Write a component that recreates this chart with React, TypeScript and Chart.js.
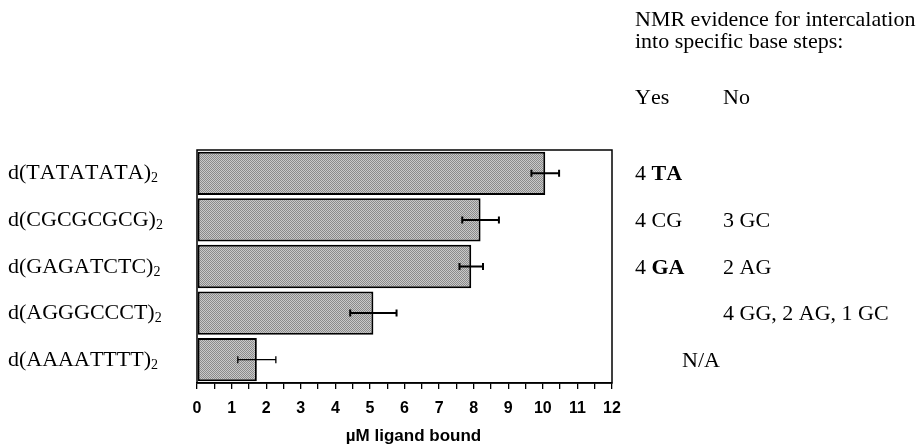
import React, { useEffect, useRef } from "react";
import { Chart, registerables } from "chart.js";

Chart.register(...registerables);

const sequences = ["TATATATA", "CGCGCGCG", "GAGATCTC", "AGGGCCCT", "AAAATTTT"];
const boundValues = [10.07, 8.2, 7.93, 5.1, 1.73];
const errorValues = [0.4, 0.53, 0.34, 0.67, 0.55];
const xTickLabels = ["0", "1", "2", "3", "4", "5", "6", "7", "8", "9", "10", "11", "12"];
const yesPlain = ["4 ", "4 CG", "4 ", "", ""];
const yesBold = ["TA", "", "GA", "", ""];
const noSteps = ["", "3 GC", "2 AG", "4 GG, 2 AG, 1 GC", ""];
const naSteps = ["", "", "", "", "N/A"];
const headerLines = ["NMR evidence for intercalation", "into specific base steps:"];
const columnHeads = ["Yes", "No"];
const axisTitle = "\u00B5M ligand bound";

const SERIF = '"Liberation Serif", "Times New Roman", serif';
const SANS = '"Liberation Sans", Arial, Helvetica, sans-serif';

function makePattern(): CanvasPattern | string {
  const c = document.createElement("canvas");
  c.width = 2;
  c.height = 2;
  const g = c.getContext("2d");
  if (!g) return "#aaaaaa";
  g.fillStyle = "#c9c9c9";
  g.fillRect(0, 0, 2, 2);
  g.fillStyle = "#8a8a8a";
  g.fillRect(0, 0, 1, 1);
  g.fillRect(1, 1, 1, 1);
  const p = g.createPattern(c, "repeat");
  return p || "#aaaaaa";
}

const decorPlugin = {
  id: "decor",
  afterDatasetsDraw(chart: any) {
    const ctx = chart.ctx;
    const xs = chart.scales.x;
    const meta = chart.getDatasetMeta(0);
    const area = chart.chartArea;
    ctx.save();
    ctx.strokeStyle = "#000";
    ctx.lineWidth = 1.5;
    ctx.strokeRect(area.left, area.top, area.right - area.left, area.bottom - area.top);
    meta.data.forEach((bar: any, i: number) => {
      const v = boundValues[i];
      const e = errorValues[i];
      const x1 = xs.getPixelForValue(v - e);
      const x2 = xs.getPixelForValue(v + e);
      const y = bar.y;
      ctx.lineWidth = i === 4 ? 1.3 : 2;
      ctx.beginPath();
      ctx.moveTo(x1, y);
      ctx.lineTo(x2, y);
      ctx.moveTo(x1, y - 3.5);
      ctx.lineTo(x1, y + 3.5);
      ctx.moveTo(x2, y - 3.5);
      ctx.lineTo(x2, y + 3.5);
      ctx.stroke();
    });
    ctx.restore();
  },
  afterDraw(chart: any) {
    const ctx = chart.ctx;
    const meta = chart.getDatasetMeta(0);
    const area = chart.chartArea;
    ctx.save();
    ctx.fillStyle = "#000";
    ctx.textBaseline = "alphabetic";
    ctx.textAlign = "left";
    try {
      (ctx as any).fontKerning = "none";
    } catch (e) {}
    meta.data.forEach((bar: any, i: number) => {
      const base = bar.y + 6;
      ctx.font = `22px ${SERIF}`;
      const main = `d(${sequences[i]})`;
      ctx.fillText(main, 8, base);
      const w = ctx.measureText(main).width;
      ctx.font = `14px ${SERIF}`;
      ctx.fillText("2", 8 + w, base + 3);
    });
    ctx.font = `22px ${SERIF}`;
    ctx.fillText(headerLines[0], 635, 26);
    ctx.fillText(headerLines[1], 635, 48);
    ctx.fillText(columnHeads[0], 635, 104);
    ctx.fillText(columnHeads[1], 723, 104);
    meta.data.forEach((bar: any, i: number) => {
      const base = bar.y + 7;
      ctx.font = `22px ${SERIF}`;
      let x = 635;
      if (yesPlain[i]) {
        ctx.fillText(yesPlain[i], x, base);
        x += ctx.measureText(yesPlain[i]).width;
      }
      if (yesBold[i]) {
        ctx.font = `bold 22px ${SERIF}`;
        ctx.fillText(yesBold[i], x, base);
        ctx.font = `22px ${SERIF}`;
      }
      if (noSteps[i]) ctx.fillText(noSteps[i], 723, base);
      if (naSteps[i]) ctx.fillText(naSteps[i], 682, base);
    });
    ctx.font = `bold 17px ${SANS}`;
    ctx.textAlign = "center";
    ctx.fillText(axisTitle, (area.left + area.right) / 2 + 9, 441);
    ctx.restore();
  },
};

export default function App() {
  const ref = useRef<HTMLCanvasElement | null>(null);
  useEffect(() => {
    if (!ref.current) return;
    const chart = new Chart(ref.current, {
      type: "bar",
      data: {
        labels: sequences,
        datasets: [
          {
            data: boundValues,
            backgroundColor: makePattern() as any,
            borderColor: "#000",
            borderWidth: 2,
            borderSkipped: false,
            barPercentage: 0.93,
            categoryPercentage: 1,
          },
        ],
      },
      options: {
        indexAxis: "y",
        responsive: false,
        animation: false,
        devicePixelRatio: 1,
        layout: { padding: { left: 197, right: 308, top: 150, bottom: 0 } },
        plugins: { legend: { display: false }, tooltip: { enabled: false } },
        scales: {
          y: { display: false },
          x: {
            min: 0,
            max: 12,
            afterFit: (s: any) => {
              s.height = 62;
            },
            grid: {
              drawOnChartArea: false,
              drawTicks: true,
              tickLength: 6,
              color: "#000",
              lineWidth: 1.3,
            },
            border: { display: true, color: "#000", width: 1.5 },
            ticks: {
              stepSize: 0.5,
              autoSkip: false,
              maxRotation: 0,
              color: "#000",
              padding: 10,
              font: { family: SANS, size: 16, weight: "bold" },
              callback: (v: any) => {
                const n = Number(v);
                return Number.isInteger(n) ? xTickLabels[n] : "";
              },
            },
          },
        },
      },
      plugins: [decorPlugin],
    } as any);
    return () => chart.destroy();
  }, []);
  return (
    <div style={{ position: "absolute", left: 0, top: 0, width: 920, height: 445, background: "#fff" }}>
      <canvas ref={ref} width={920} height={445} />
    </div>
  );
}
